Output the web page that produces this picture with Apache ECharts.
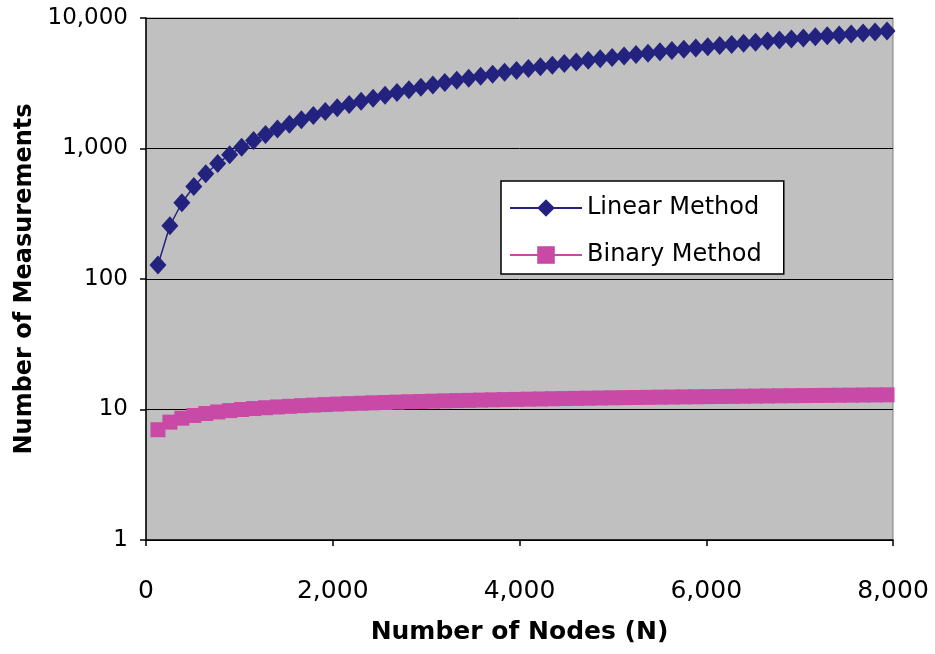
<!DOCTYPE html>
<html>
<head>
<meta charset="utf-8">
<script src="https://cdn.jsdelivr.net/npm/echarts@6/dist/echarts.min.js"></script>
<style>
  html, body { margin: 0; padding: 0; background: #fff; }
  #chart { width: 935px; height: 654px; }
</style>
</head>
<body>
<div id="chart"></div>
<script>
// number of nodes (x)
const nodes = [128, 256, 384, 512, 640, 768, 896, 1024, 1152, 1280, 1408, 1536, 1664, 1792, 1920, 2048,
  2176, 2304, 2432, 2560, 2688, 2816, 2944, 3072, 3200, 3328, 3456, 3584, 3712, 3840, 3968, 4096,
  4224, 4352, 4480, 4608, 4736, 4864, 4992, 5120, 5248, 5376, 5504, 5632, 5760, 5888, 6016, 6144,
  6272, 6400, 6528, 6656, 6784, 6912, 7040, 7168, 7296, 7424, 7552, 7680, 7808, 7936];

// measurements, linear method
const linearValues = [128, 256, 384, 512, 640, 768, 896, 1024, 1152, 1280, 1408, 1536, 1664, 1792, 1920, 2048,
  2176, 2304, 2432, 2560, 2688, 2816, 2944, 3072, 3200, 3328, 3456, 3584, 3712, 3840, 3968, 4096,
  4224, 4352, 4480, 4608, 4736, 4864, 4992, 5120, 5248, 5376, 5504, 5632, 5760, 5888, 6016, 6144,
  6272, 6400, 6528, 6656, 6784, 6912, 7040, 7168, 7296, 7424, 7552, 7680, 7808, 7936];

// measurements, binary method
const binaryValues = [7, 8, 8.58, 9, 9.32, 9.58, 9.81, 10, 10.17, 10.32, 10.46, 10.58, 10.7, 10.81, 10.91, 11,
  11.09, 11.17, 11.25, 11.32, 11.39, 11.46, 11.52, 11.58, 11.64, 11.7, 11.75, 11.81, 11.86, 11.91, 11.95, 12,
  12.04, 12.09, 12.13, 12.17, 12.21, 12.25, 12.29, 12.32, 12.36, 12.39, 12.43, 12.46, 12.49, 12.52, 12.55, 12.58,
  12.61, 12.64, 12.67, 12.7, 12.73, 12.75, 12.78, 12.81, 12.83, 12.86, 12.88, 12.91, 12.93, 12.95];

const seriesNames = ["Linear Method", "Binary Method"];
const xTicks = [0, 2000, 4000, 6000, 8000];

const font = "DejaVu Sans";
const fmt = (v) => Number(v).toLocaleString("en-US");

const option = {
  animation: false,
  backgroundColor: "#fff",
  grid: {
    left: 146,
    right: 42,
    top: 18,
    bottom: 114,
    show: true,
    backgroundColor: "#c0c0c0",
    borderColor: "#808080",
    borderWidth: 1,
  },
  legend: {
    orient: "vertical",
    left: 501,
    top: 181,
    backgroundColor: "#fff",
    borderColor: "#000",
    borderWidth: 1.5,
    borderRadius: 0,
    padding: [15, 22, 7, 8],
    itemWidth: 72,
    itemHeight: 22,
    itemGap: 23,
    textStyle: { fontFamily: font, fontSize: 24, color: "#000" },
    data: seriesNames,
  },
  xAxis: {
    type: "value",
    min: xTicks[0],
    max: xTicks[xTicks.length - 1],
    interval: 2000,
    name: "Number of Nodes (N)",
    nameLocation: "middle",
    nameGap: 80,
    nameTextStyle: { fontFamily: font, fontSize: 25, fontWeight: "bold", color: "#000" },
    axisLine: { show: true, onZero: false, lineStyle: { color: "#000", width: 1.5 } },
    axisTick: { show: true, length: 6, lineStyle: { color: "#000", width: 1.5 } },
    axisLabel: { fontFamily: font, fontSize: 25, color: "#000", margin: 39, formatter: fmt },
    splitLine: { show: false },
  },
  yAxis: {
    type: "log",
    logBase: 10,
    min: 1,
    max: 10000,
    name: "Number of Measurements",
    nameLocation: "middle",
    nameGap: 98,
    nameTextStyle: { fontFamily: font, fontSize: 24, fontWeight: "bold", color: "#000" },
    axisLine: { show: true, lineStyle: { color: "#000", width: 1.5 } },
    axisTick: { show: true, length: 6, lineStyle: { color: "#000", width: 1.5 } },
    axisLabel: { fontFamily: font, fontSize: 23, color: "#000", margin: 18, formatter: fmt },
    splitLine: { show: true, lineStyle: { color: "#000", width: 1 } },
  },
  series: [
    {
      name: seriesNames[0],
      type: "line",
      data: nodes.map((n, i) => [n, linearValues[i]]),
      symbol: "diamond",
      symbolSize: [17, 19],
      itemStyle: { color: "#23237f" },
      lineStyle: { color: "#23237f", width: 1.5 },
      z: 3,
    },
    {
      name: seriesNames[1],
      type: "line",
      data: nodes.map((n, i) => [n, binaryValues[i]]),
      symbol: "rect",
      symbolSize: 15,
      itemStyle: { color: "#c84aa6" },
      lineStyle: { color: "#c84aa6", width: 1.5 },
      z: 2,
    },
  ],
};

const chartObj = echarts.init(document.getElementById("chart"));
chartObj.setOption(option);
window.onresize = chartObj.resize;
</script>
</body>
</html>
